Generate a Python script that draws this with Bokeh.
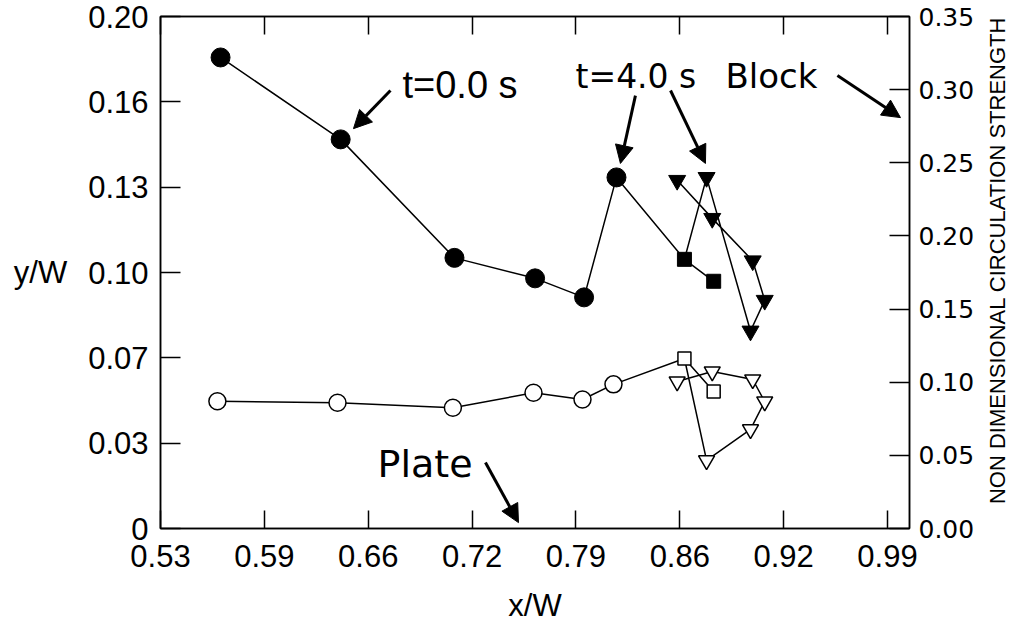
import math
from bokeh.plotting import figure
from bokeh.models import LinearAxis, Range1d, FixedTicker, Arrow, NormalHead, Label
from bokeh.embed import file_html
from bokeh.resources import INLINE

# ---------------- data ----------------
x_tick_labels = ["0.53", "0.59", "0.66", "0.72", "0.79", "0.86", "0.92", "0.99"]
y_tick_labels = ["0", "0.03", "0.07", "0.10", "0.13", "0.16", "0.20"]
circ_tick_labels = ["0.00", "0.05", "0.10", "0.15", "0.20", "0.25", "0.30", "0.35"]

# circulation strength (right axis), filled symbols
circ_x = [0.568, 0.644, 0.716, 0.767, 0.798, 0.8185]
circ_val = [0.322, 0.266, 0.185, 0.171, 0.158, 0.240]
sq_x = [0.8615, 0.880]
sq_val = [0.184, 0.169]
tri_x = [0.8755, 0.9033, 0.9123, 0.9047, 0.8791, 0.8569]
tri_val = [0.240, 0.135, 0.156, 0.183, 0.212, 0.238]

# y/W (left axis), open symbols
pos_x = [0.566, 0.642, 0.715, 0.766, 0.797, 0.8166]
pos_val = [0.0497, 0.0491, 0.0472, 0.0530, 0.0504, 0.0563]
osq_x = [0.8615, 0.880]
osq_val = [0.0664, 0.0535]
otri_x = [0.8755, 0.9033, 0.9123, 0.9047, 0.8791, 0.8569]
otri_val = [0.0266, 0.0387, 0.0496, 0.0582, 0.0613, 0.0574]

# ---------------- axes setup ----------------
x0, x1 = 0.53, 0.99
x_ticks = [round(x0 + k * (x1 - x0) / 7, 10) for k in range(8)]
y_ticks = [round(k * 0.2 / 6, 10) for k in range(7)]
circ_ticks = [round(k * 0.05, 10) for k in range(8)]

p = figure(frame_width=749, frame_height=512,
           x_range=Range1d(0.53, 1.0039), y_range=Range1d(0, 0.2),
           output_backend="svg", toolbar_location=None,
           min_border_left=160, min_border_right=119,
           min_border_top=16, min_border_bottom=90)
p.extra_y_ranges = {"circ": Range1d(0, 0.35)}
p.grid.visible = False
p.outline_line_color = "black"
p.outline_line_width = 1.5
p.background_fill_color = "white"

xa = p.below[0]
ya = p.left[0]
right = LinearAxis(y_range_name="circ")
top = LinearAxis()
p.add_layout(right, "right")
p.add_layout(top, "above")

for ax in [xa, ya, right, top]:
    ax.axis_line_color = "black"
    ax.axis_line_width = 1.5
    ax.major_tick_line_color = "black"
    ax.major_tick_line_width = 1.5
    ax.minor_tick_line_color = None
    ax.major_tick_out = 0
    ax.major_tick_in = 20
    ax.major_label_text_color = "black"
    ax.axis_label_text_color = "black"
    ax.axis_label_text_font_style = "normal"

xa.ticker = FixedTicker(ticks=x_ticks)
xa.major_label_overrides = {t: l for t, l in zip(x_ticks, x_tick_labels)}
xa.major_tick_in = 18
xa.major_label_text_font = "Liberation Sans"
xa.major_label_text_font_size = "31px"
xa.major_label_standoff = 16
xa.axis_label = "x/W"
xa.axis_label_text_font = "Liberation Sans"
xa.axis_label_text_font_size = "31px"
xa.axis_label_standoff = 18

top.ticker = FixedTicker(ticks=x_ticks)
top.major_tick_in = 18
top.major_label_overrides = {t: "" for t in x_ticks}
top.major_label_text_font_size = "1px"
top.major_label_standoff = 0

ya.ticker = FixedTicker(ticks=y_ticks)
ya.major_label_overrides = {t: l for t, l in zip(y_ticks, y_tick_labels)}
ya.major_label_text_font = "Liberation Sans"
ya.major_label_text_font_size = "31px"
ya.major_label_standoff = 12
ya.axis_label = "y/W"
ya.axis_label_orientation = "horizontal"
ya.axis_label_text_font = "Liberation Sans"
ya.axis_label_text_font_size = "31px"
ya.axis_label_standoff = 18

right.ticker = FixedTicker(ticks=circ_ticks)
right.major_label_overrides = {t: l for t, l in zip(circ_ticks, circ_tick_labels)}
right.major_label_text_font = "DejaVu Sans"
right.major_label_text_font_size = "25px"
right.major_label_standoff = 9
right.axis_label = "\u00a0\u00a0\u00a0\u00a0NON DIMENSIONAL CIRCULATION STRENGTH"
right.axis_label_text_font = "Liberation Sans"
right.axis_label_text_font_size = "22px"
right.axis_label_standoff = 20
if "axis_label_align" in right.properties():
    right.axis_label_orientation = math.pi / 2
    right.axis_label_align = "start"

# ---------------- lines ----------------
lw = 1.5
p.line(circ_x + sq_x, circ_val + sq_val, y_range_name="circ", line_color="black", line_width=lw)
p.line(sq_x[:1] + tri_x, sq_val[:1] + tri_val, y_range_name="circ", line_color="black", line_width=lw)
p.line(pos_x + osq_x, pos_val + osq_val, line_color="black", line_width=lw)
p.line(osq_x[:1] + otri_x, osq_val[:1] + otri_val, line_color="black", line_width=lw)

# ---------------- markers ----------------
p.scatter(circ_x, circ_val, y_range_name="circ", marker="circle", size=19,
          fill_color="black", line_color="black")
p.scatter(sq_x, sq_val, y_range_name="circ", marker="square", size=14,
          fill_color="black", line_color="black")
p.scatter(tri_x, tri_val, y_range_name="circ", marker="inverted_triangle", size=17,
          fill_color="black", line_color="black")
p.scatter(pos_x, pos_val, marker="circle", size=17,
          fill_color="white", line_color="black", line_width=1.5)
p.scatter(osq_x, osq_val, marker="square", size=13,
          fill_color="white", line_color="black", line_width=1.5)
p.scatter(otri_x, otri_val, marker="inverted_triangle", size=16,
          fill_color="white", line_color="black", line_width=1.5)

# ---------------- annotations ----------------
def arrow(xs, ys, xe, ye):
    p.add_layout(Arrow(end=NormalHead(size=18, fill_color="black", line_color="black"),
                       x_start=xs, y_start=ys, x_end=xe, y_end=ye,
                       line_color="black", line_width=3))

arrow(0.6755, 0.1711, 0.6521, 0.1562)
arrow(0.8305, 0.1691, 0.8210, 0.1426)
arrow(0.8527, 0.1711, 0.8748, 0.1426)
arrow(0.9583, 0.1770, 0.9982, 0.1605)
arrow(0.7356, 0.0258, 0.7565, 0.0023)

def label(x, y, text, font, size):
    p.add_layout(Label(x=x, y=y, text=text, text_font=font, text_font_size=size,
                       text_baseline="alphabetic", text_color="black"))

label(0.6831, 0.1731, "t=0.0 s", "Liberation Sans", "38px")
label(0.7926, 0.1766, "t=4.0 s", "DejaVu Sans", "33px")
label(0.8875, 0.1766, "Block", "DejaVu Sans", "34px")
label(0.6673, 0.0252, "Plate", "DejaVu Sans", "38px")

open("out.html", "w").write(file_html(p, INLINE))
